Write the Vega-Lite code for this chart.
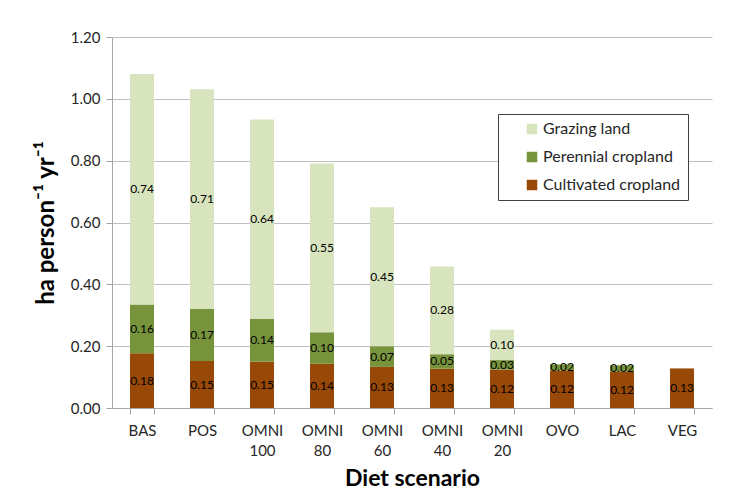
{
  "$schema": "https://vega.github.io/schema/vega-lite/v6.json",
  "autosize": "none",
  "padding": {"left": 112, "top": 37, "right": 23, "bottom": 85},
  "width": 600,
  "height": 371,
  "background": "white",
  "config": {
    "font": "Lato",
    "view": {"stroke": null}
  },
  "data": {
    "values": [
      {"diet": "BAS", "type": "Cultivated cropland", "ord": 1, "value": 0.177},
      {"diet": "BAS", "type": "Perennial cropland", "ord": 2, "value": 0.158},
      {"diet": "BAS", "type": "Grazing land", "ord": 3, "value": 0.745},
      {"diet": "POS", "type": "Cultivated cropland", "ord": 1, "value": 0.152},
      {"diet": "POS", "type": "Perennial cropland", "ord": 2, "value": 0.168},
      {"diet": "POS", "type": "Grazing land", "ord": 3, "value": 0.711},
      {"diet": "OMNI 100", "type": "Cultivated cropland", "ord": 1, "value": 0.150},
      {"diet": "OMNI 100", "type": "Perennial cropland", "ord": 2, "value": 0.139},
      {"diet": "OMNI 100", "type": "Grazing land", "ord": 3, "value": 0.644},
      {"diet": "OMNI 80", "type": "Cultivated cropland", "ord": 1, "value": 0.143},
      {"diet": "OMNI 80", "type": "Perennial cropland", "ord": 2, "value": 0.102},
      {"diet": "OMNI 80", "type": "Grazing land", "ord": 3, "value": 0.546},
      {"diet": "OMNI 60", "type": "Cultivated cropland", "ord": 1, "value": 0.133},
      {"diet": "OMNI 60", "type": "Perennial cropland", "ord": 2, "value": 0.067},
      {"diet": "OMNI 60", "type": "Grazing land", "ord": 3, "value": 0.449},
      {"diet": "OMNI 40", "type": "Cultivated cropland", "ord": 1, "value": 0.127},
      {"diet": "OMNI 40", "type": "Perennial cropland", "ord": 2, "value": 0.047},
      {"diet": "OMNI 40", "type": "Grazing land", "ord": 3, "value": 0.284},
      {"diet": "OMNI 20", "type": "Cultivated cropland", "ord": 1, "value": 0.124},
      {"diet": "OMNI 20", "type": "Perennial cropland", "ord": 2, "value": 0.031},
      {"diet": "OMNI 20", "type": "Grazing land", "ord": 3, "value": 0.098},
      {"diet": "OVO", "type": "Cultivated cropland", "ord": 1, "value": 0.121},
      {"diet": "OVO", "type": "Perennial cropland", "ord": 2, "value": 0.020},
      {"diet": "LAC", "type": "Cultivated cropland", "ord": 1, "value": 0.118},
      {"diet": "LAC", "type": "Perennial cropland", "ord": 2, "value": 0.020},
      {"diet": "VEG", "type": "Cultivated cropland", "ord": 1, "value": 0.128}
    ]
  },
  "transform": [
    {"stack": "value", "groupby": ["diet"], "sort": [{"field": "ord", "order": "ascending"}], "as": ["v0", "v1"]},
    {"calculate": "(datum.v0 + datum.v1) / 2", "as": "vmid"}
  ],
  "encoding": {
    "x": {
      "field": "diet",
      "type": "nominal",
      "sort": ["BAS", "POS", "OMNI 100", "OMNI 80", "OMNI 60", "OMNI 40", "OMNI 20", "OVO", "LAC", "VEG"],
      "scale": {"paddingInner": 0.6, "paddingOuter": 0.3},
      "axis": {
        "title": "Diet scenario",
        "titleFontSize": 23,
        "titleFontWeight": "bold",
        "titleColor": "black",
        "titlePadding": 9,
        "labelAngle": 0,
        "labelExpr": "split(datum.label, ' ')",
        "labelFontSize": 15,
        "labelColor": "#262626",
        "labelPadding": 9,
        "labelLineHeight": 20,
        "tickBand": "extent",
        "tickSize": 6,
        "tickColor": "#A6A6A6",
        "domainColor": "#A6A6A6",
        "grid": false
      }
    }
  },
  "layer": [
    {
      "mark": {"type": "bar"},
      "encoding": {
        "y": {
          "field": "v0",
          "type": "quantitative",
          "scale": {"domain": [0, 1.2]},
          "axis": {
            "title": "ha person⁻¹ yr⁻¹",
            "titleFontSize": 24,
            "titleFontWeight": "bold",
            "titleColor": "black",
            "titlePadding": 12,
            "format": ".2f",
            "values": [0, 0.2, 0.4, 0.6, 0.8, 1.0, 1.2],
            "labelFontSize": 15,
            "labelColor": "#262626",
            "labelPadding": 6,
            "tickSize": 6,
            "tickColor": "#A6A6A6",
            "domainColor": "#A6A6A6",
            "gridColor": "#BFBFBF",
            "gridWidth": 1
          }
        },
        "y2": {"field": "v1"},
        "color": {
          "field": "type",
          "type": "nominal",
          "scale": {
            "domain": ["Grazing land", "Perennial cropland", "Cultivated cropland"],
            "range": ["#D7E4BD", "#77933C", "#984807"]
          },
          "legend": {
            "title": null,
            "orient": "none",
            "legendX": 386,
            "legendY": 77,
            "direction": "vertical",
            "strokeColor": "#404040",
            "fillColor": "white",
            "padding": 7,
            "symbolType": "square",
            "symbolSize": 110,
            "symbolOffset": 19,
            "symbolStrokeWidth": 0,
            "labelFontSize": 16,
            "labelColor": "#262626",
            "labelOffset": 3,
            "labelExpr": "datum.label + '         '",
            "rowPadding": 12
          }
        }
      }
    },
    {
      "mark": {"type": "text", "fontSize": 12, "color": "black", "baseline": "middle"},
      "encoding": {
        "y": {"field": "vmid", "type": "quantitative"},
        "text": {"field": "value", "type": "quantitative", "format": ".2f"}
      }
    }
  ]
}
